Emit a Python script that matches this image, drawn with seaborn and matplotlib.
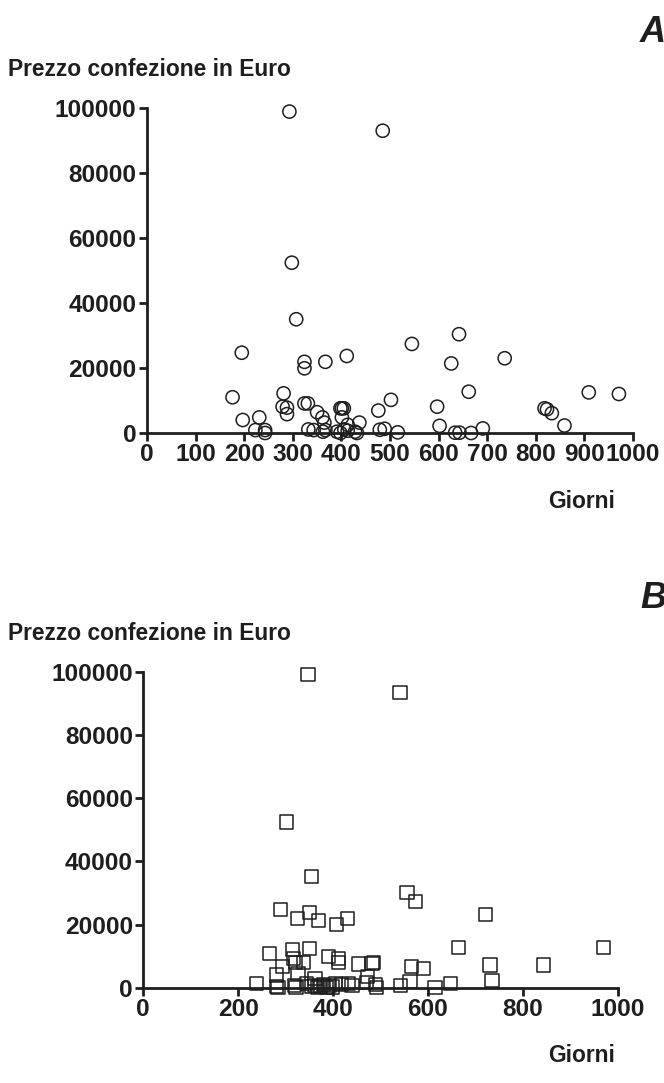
import matplotlib
matplotlib.use("Agg")
import matplotlib.pyplot as plt
from matplotlib import font_manager as fm
import seaborn as sns
import pandas as pd

# ---------------- data ----------------
# Panel A (circles)
days_a = [293, 485, 298, 307, 195, 324, 324, 367, 411, 545, 642, 626, 736, 662, 909, 971,
          176, 281, 279, 288, 288, 324, 331, 350, 361, 365, 398, 401, 405, 401, 413, 437,
          476, 502, 597, 602, 818, 823, 833, 859, 691, 634, 643, 667, 516, 479, 489, 197,
          231, 223, 243, 243, 332, 343, 362, 367, 391, 398, 406, 413, 428, 432]
price_a = [98900, 93000, 52400, 35000, 24700, 21900, 19900, 21900, 23700, 27400, 30400, 21400,
           23000, 12700, 12500, 12000, 11000, 12200, 8100, 7800, 5800, 9100, 9100, 6400, 4800,
           3200, 7600, 7600, 7600, 4800, 2500, 3200, 6900, 10200, 8100, 2200, 7600, 7300, 6100,
           2300, 1400, 100, 100, 0, 200, 1000, 1300, 4000, 4800, 900, 900, 0, 1100, 900, 400,
           900, 400, 0, 1100, 700, 400, 0]

# Panel B (squares)
days_b = [347, 541, 301, 354, 556, 573, 290, 325, 351, 369, 408, 430, 721, 664, 970, 266,
          315, 351, 391, 411, 411, 316, 320, 337, 294, 453, 482, 485, 566, 590, 731, 843,
          735, 281, 239, 281, 284, 318, 322, 344, 355, 362, 368, 374, 380, 386, 392, 398,
          405, 418, 432, 440, 471, 473, 490, 492, 543, 562, 615, 648, 326, 362]
price_b = [99300, 93500, 52500, 35100, 30200, 27400, 24800, 22000, 23700, 21400, 20000, 21800,
           23200, 12800, 12700, 10900, 12100, 12300, 10000, 9300, 7900, 9300, 7900, 7900, 6600,
           7500, 7700, 7900, 6600, 6100, 7200, 7200, 2200, 4000, 1200, 300, 0, 600, 0, 1200,
           400, 800, 0, 500, 1000, 0, 600, 200, 1400, 900, 1200, 600, 1600, 3500, 1000, 0,
           600, 1900, 0, 1200, 4500, 3000]

xticks_a = [0, 100, 200, 300, 400, 500, 600, 700, 800, 900, 1000]
xticks_b = [0, 200, 400, 600, 800, 1000]
yticks = [0, 20000, 40000, 60000, 80000, 100000]

ylabel_text = "Prezzo confezione in Euro"
xlabel_text = "Giorni"

# ---------------- style ----------------
sns.set_style("ticks")
names = {f.name for f in fm.fontManager.ttflist}
if "Liberation Sans Narrow" in names:
    FAM = "Liberation Sans Narrow"
    FS = 20
    TFS = 21.5
else:
    FAM = "Liberation Sans"
    FS = 16.4
    TFS = 17.6
plt.rcParams["font.family"] = [FAM, "DejaVu Sans"]
plt.rcParams["font.weight"] = "bold"

INK = "#1e1e1e"
W, H = 664, 1083
fig = plt.figure(figsize=(W / 100, H / 100), dpi=100)


def px_axes(left, right, top, bottom):
    return fig.add_axes([left / W, 1 - bottom / H, (right - left) / W, (bottom - top) / H])


def style_axes(ax, xticks):
    ax.set_xlim(0, 1000)
    ax.set_ylim(0, 100000)
    ax.set_xticks(xticks)
    ax.set_yticks(yticks)
    ax.set_xticklabels([str(t) for t in xticks], fontsize=TFS, fontweight="bold", color=INK)
    ax.set_yticklabels([str(t) for t in yticks], fontsize=TFS, fontweight="bold", color=INK)
    for side in ("top", "right"):
        ax.spines[side].set_visible(False)
    for side in ("left", "bottom"):
        ax.spines[side].set_linewidth(2.0)
        ax.spines[side].set_color(INK)
    ax.tick_params(axis="both", direction="out", length=6, width=2.0, color=INK, pad=1.5)
    ax.set_xlabel("")
    ax.set_ylabel("")
    ax.set_facecolor("none")


# Panel A
axA = px_axes(147, 633, 108, 433)
dfA = pd.DataFrame({"Giorni": days_a, "Prezzo": price_a})
sns.scatterplot(data=dfA, x="Giorni", y="Prezzo", ax=axA, marker="o", s=90,
                facecolor="none", edgecolor=INK, linewidth=1.1, clip_on=False, zorder=3)
style_axes(axA, xticks_a)

# Panel B
axB = px_axes(143.3, 617.7, 672, 987.7)
dfB = pd.DataFrame({"Giorni": days_b, "Prezzo": price_b})
sns.scatterplot(data=dfB, x="Giorni", y="Prezzo", ax=axB, marker="s", s=90,
                facecolor="none", edgecolor=INK, linewidth=1.1, clip_on=False, zorder=3)
style_axes(axB, xticks_b)

# Texts
def ftext(x, y, s, **kw):
    fig.text(x / W, 1 - y / H, s, **kw)

ftext(8, 70, ylabel_text, fontsize=FS, fontweight="bold", color=INK, ha="left", va="center")
ftext(8, 634, ylabel_text, fontsize=FS, fontweight="bold", color=INK, ha="left", va="center")
ftext(582, 501, xlabel_text, fontsize=FS, fontweight="bold", color=INK, ha="center", va="center")
ftext(582, 1056, xlabel_text, fontsize=FS, fontweight="bold", color=INK, ha="center", va="center")
ftext(640, 32, "A", fontsize=26, fontweight="bold", fontstyle="italic", color=INK,
      ha="left", va="center", family=["Liberation Sans", "DejaVu Sans"])
ftext(640, 598, "B", fontsize=26, fontweight="bold", fontstyle="italic", color=INK,
      ha="left", va="center", family=["Liberation Sans", "DejaVu Sans"])

fig.savefig("out.png", dpi=100, facecolor="white")
